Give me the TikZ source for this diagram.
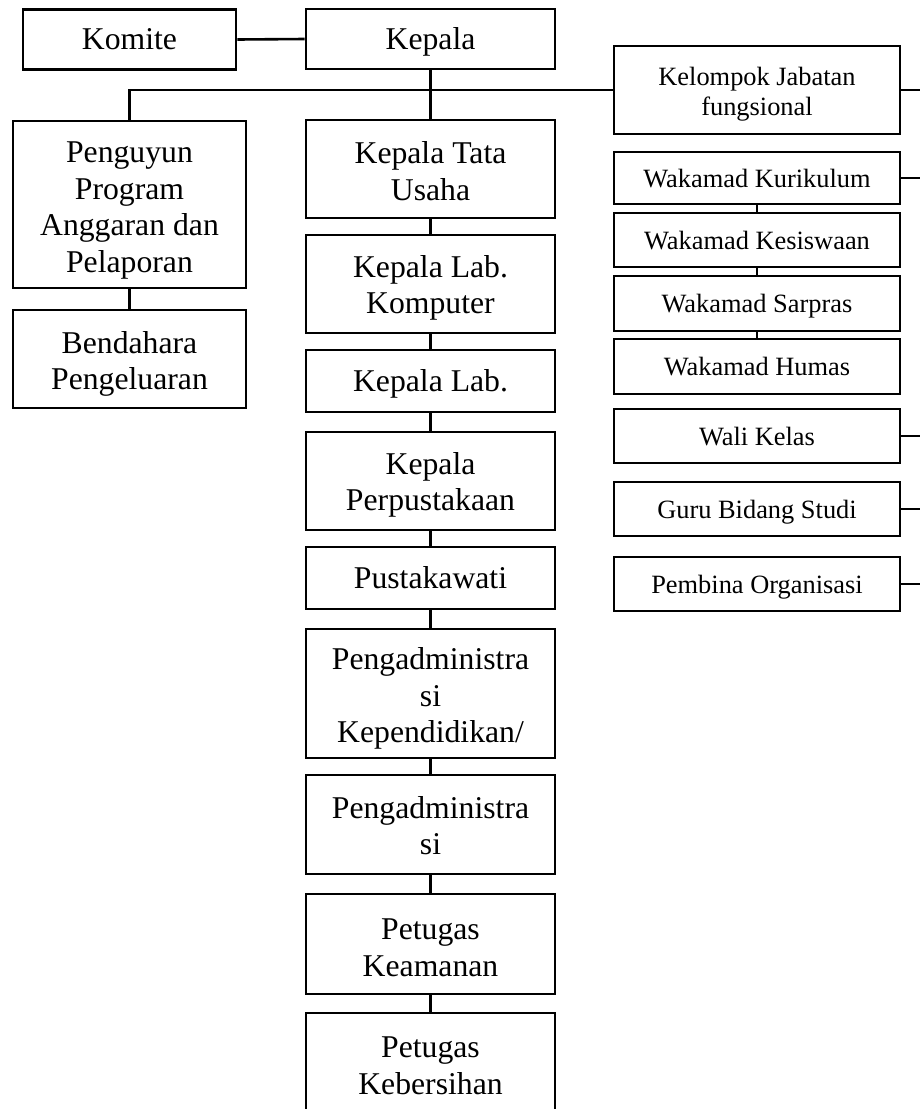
\documentclass[tikz,border=0pt]{standalone}
\usepackage{fontspec}
\setmainfont{Liberation Serif}
\begin{document}
\begin{tikzpicture}[x=1pt,y=-1pt,
  box/.style={draw=black, line width=2.6pt, rectangle, inner sep=0pt, fill=white},
  big/.style={box, font=\fontsize{31.7}{36.7}\selectfont},
  small/.style={box, font=\fontsize{26.4}{30.2}\selectfont},
  bigtext/.style={font=\fontsize{31.7}{36.7}\selectfont, align=center, inner sep=0pt},
  smalltext/.style={font=\fontsize{26.4}{30.2}\selectfont, align=center, inner sep=0pt},
  bigone/.style={text height=24pt, text depth=4pt},
  smallone/.style={text height=21pt, text depth=3pt},
  link/.style={draw=black, line width=2.6pt}]
\useasboundingbox[fill=white] (0,0) rectangle (919,1109);
% left / top
\node[big, bigone, minimum width=213pt, minimum height=60pt] (komite) at (129.5,39.5) {Komite};
\node[big, bigone, minimum width=249pt, minimum height=60pt] (kepala) at (430.5,39) {Kepala};
\node[big, minimum width=233pt, minimum height=167pt,
  label={[bigtext, yshift=-6pt]center:{Penguyun\\Program\\Anggaran dan\\Pelaporan}}] (peng) at (129.5,204.5) {};
\node[big, minimum width=233pt, minimum height=98pt,
  label={[bigtext, yshift=-5pt]center:{Bendahara\\Pengeluaran}}] (bend) at (129.5,359) {};
% center column
\node[big, minimum width=249pt, minimum height=98pt,
  label={[bigtext, yshift=-2pt]center:{Kepala Tata\\Usaha}}] (ktu) at (430.5,169) {};
\node[big, minimum width=249pt, minimum height=98pt,
  label={[bigtext, yshift=-4pt]center:{Kepala Lab.\\Komputer}}] (klk) at (430.5,284) {};
\node[big, bigone, minimum width=249pt, minimum height=62pt] (klab) at (430.5,381) {Kepala Lab.};
\node[big, minimum width=249pt, minimum height=98pt,
  label={[bigtext, yshift=-4pt]center:{Kepala\\Perpustakaan}}] (kperp) at (430.5,481) {};
\node[big, bigone, minimum width=249pt, minimum height=62pt] (pust) at (430.5,578) {Pustakawati};
\node[big, minimum width=249pt, minimum height=129pt,
  label={[bigtext, yshift=-5pt]center:{Pengadministra\\si\\Kependidikan/}}] (padmA) at (430.5,693.5) {};
\node[big, minimum width=249pt, minimum height=99pt,
  label={[bigtext, yshift=-1pt]center:{Pengadministra\\si}}] (padmB) at (430.5,824.5) {};
\node[big, minimum width=249pt, minimum height=100pt,
  label={[bigtext, yshift=-4pt]center:{Petugas\\Keamanan}}] (pkeam) at (430.5,944) {};
\node[big, minimum width=249pt, minimum height=100pt,
  label={[bigtext, yshift=-3pt]center:{Petugas\\Kebersihan}}] (pkeb) at (430.5,1063) {};
% right column
\node[small, minimum width=286pt, minimum height=88pt,
  label={[smalltext, yshift=-4pt]center:{Kelompok Jabatan\\fungsional}}] (kjf) at (757,90) {};
\node[small, smallone, minimum width=286pt, minimum height=52pt] (kur) at (757,178) {Wakamad Kurikulum};
\node[small, smallone, minimum width=286pt, minimum height=54pt] (kes) at (757,240) {Wakamad Kesiswaan};
\node[small, smallone, minimum width=286pt, minimum height=55pt] (sar) at (757,303.5) {Wakamad Sarpras};
\node[small, smallone, minimum width=286pt, minimum height=55pt] (hum) at (757,366.5) {Wakamad Humas};
\node[small, smallone, minimum width=286pt, minimum height=54pt] (wali) at (757,436) {Wali Kelas};
\node[small, smallone, minimum width=286pt, minimum height=54pt] (guru) at (757,509) {Guru Bidang Studi};
\node[small, smallone, minimum width=286pt, minimum height=54pt] (pemb) at (757,584) {Pembina Organisasi};
\coordinate (edge) at (925,0);
% connectors
\draw[link] (komite.east) -- (kepala.west);
\draw[link] (kepala.south) -- (ktu.north);
\draw[link] (peng.north) |- (kjf.west);
\draw[link] (peng.south) -- (bend.north);
\draw[link] (ktu.south) -- (klk.north);
\draw[link] (klk.south) -- (klab.north);
\draw[link] (klab.south) -- (kperp.north);
\draw[link] (kperp.south) -- (pust.north);
\draw[link] (pust.south) -- (padmA.north);
\draw[link] (padmA.south) -- (padmB.north);
\draw[link] (padmB.south) -- (pkeam.north);
\draw[link] (pkeam.south) -- (pkeb.north);
\draw[link] (kur.south) -- (kes.north);
\draw[link] (kes.south) -- (sar.north);
\draw[link] (sar.south) -- (hum.north);
\draw[link] (kjf.east) -- (kjf.east -| edge);
\draw[link] (kur.east) -- (kur.east -| edge);
\draw[link] (wali.east) -- (wali.east -| edge);
\draw[link] (guru.east) -- (guru.east -| edge);
\draw[link] (pemb.east) -- (pemb.east -| edge);
\end{tikzpicture}
\end{document}
